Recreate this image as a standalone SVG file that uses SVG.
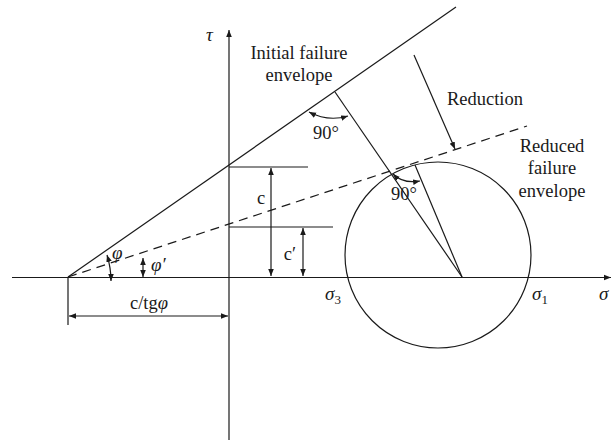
<svg xmlns="http://www.w3.org/2000/svg" width="612" height="445" viewBox="0 0 612 445">
<style>
.ln{stroke:#1a1a1a;stroke-width:1.2;fill:none}
.ds{stroke:#1a1a1a;stroke-width:1.2;fill:none;stroke-dasharray:9 6}
.t{font-family:"Liberation Serif",serif;font-size:18.5px;fill:#1a1a1a}
.i{font-family:"Liberation Serif",serif;font-size:19px;font-style:italic;fill:#1a1a1a}
.sub{font-style:normal;font-size:13px}
</style>
<defs>
<marker id="ah" viewBox="0 0 10 10" refX="10" refY="5" markerWidth="7" markerHeight="7" markerUnits="userSpaceOnUse" orient="auto-start-reverse">
<path d="M0,1 L10,5 L0,9 Z" fill="#1a1a1a"/>
</marker>
</defs>
<rect width="612" height="445" fill="#fff"/>
<g id="axes">
<line class="ln" x1="12" y1="277.5" x2="611" y2="277.5" marker-end="url(#ah)"/>
<line class="ln" x1="229" y1="440" x2="229" y2="30" marker-end="url(#ah)"/>
<text class="i" x="206" y="41">τ</text>
<text class="i" x="599" y="300">σ</text>
</g>
<g id="envelopes">
<line class="ln" x1="68" y1="277" x2="456" y2="7"/>
<line class="ds" x1="68" y1="277" x2="527" y2="126"/>
</g>
<g id="circle">
<circle class="ln" cx="438" cy="255" r="93"/>
<line class="ln" x1="462" y1="277" x2="335" y2="92"/>
<line class="ln" x1="462" y1="277" x2="415" y2="165"/>
</g>
<g id="connectors">
<line class="ln" x1="229" y1="167" x2="308" y2="167"/>
<line class="ln" x1="229" y1="227" x2="333" y2="227"/>
<line class="ln" x1="271" y1="276" x2="271" y2="168" marker-start="url(#ah)" marker-end="url(#ah)"/>
<line class="ln" x1="303" y1="276" x2="303" y2="228" marker-start="url(#ah)" marker-end="url(#ah)"/>
<line class="ln" x1="68" y1="277" x2="68" y2="325"/>
<line class="ln" x1="69" y1="316" x2="228" y2="316" marker-start="url(#ah)" marker-end="url(#ah)"/>
<path class="ln" d="M107,255 Q111,268 111,281" marker-start="url(#ah)" marker-end="url(#ah)"/>
<line class="ln" x1="143" y1="258" x2="143" y2="277" marker-start="url(#ah)" marker-end="url(#ah)"/>
<path class="ln" d="M309,112 Q328,122 348,116" marker-start="url(#ah)" marker-end="url(#ah)"/>
<path class="ln" d="M393,174 Q403,184 420,181" marker-start="url(#ah)" marker-end="url(#ah)"/>
<line class="ln" x1="414" y1="55" x2="455" y2="149" marker-end="url(#ah)"/>
</g>
<g id="labels">
<text class="t" x="299" y="59" text-anchor="middle">Initial failure</text>
<text class="t" x="299" y="81" text-anchor="middle">envelope</text>
<text class="t" x="485" y="105" text-anchor="middle">Reduction</text>
<text class="t" x="552" y="152" text-anchor="middle">Reduced</text>
<text class="t" x="552" y="174" text-anchor="middle">failure</text>
<text class="t" x="552" y="197" text-anchor="middle">envelope</text>
<text class="t" x="326" y="139" text-anchor="middle">90°</text>
<text class="t" x="404" y="200" text-anchor="middle">90°</text>
<text class="t" x="261" y="204" text-anchor="middle">c</text>
<text class="t" x="290" y="260" text-anchor="middle">c′</text>
<text class="t" x="149" y="309" text-anchor="middle">c/tg<tspan font-style="italic">φ</tspan></text>
<text class="i" x="112" y="259">φ</text>
<text class="i" x="151" y="271">φ′</text>
<text class="i" x="325" y="300">σ<tspan class="sub" dy="4">3</tspan></text>
<text class="i" x="532" y="300">σ<tspan class="sub" dy="4">1</tspan></text>
</g>
</svg>
